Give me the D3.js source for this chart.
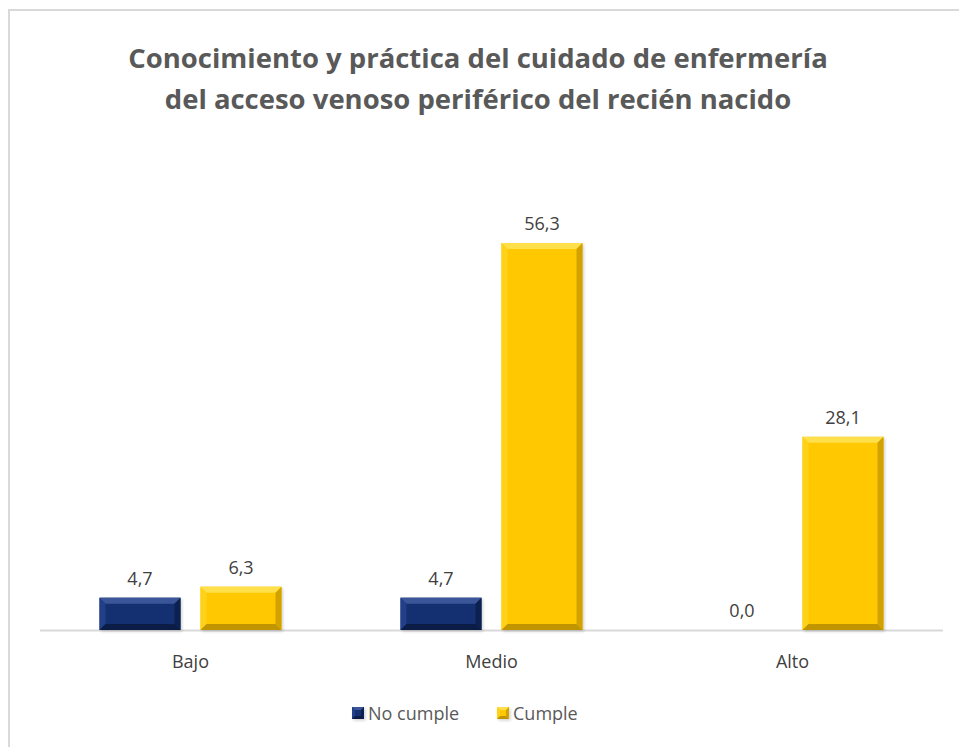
<!DOCTYPE html>
<html><head><meta charset="utf-8">
<script src="https://cdn.jsdelivr.net/npm/d3@7/dist/d3.min.js"></script>
<style>body{margin:0;background:#fff}svg{display:block}</style>
</head><body>
<svg id="c" width="959" height="747"></svg>
<script>
const categories = ["Bajo", "Medio", "Alto"];
const seriesNames = ["No cumple", "Cumple"];
const noCumple = [4.7, 4.7, 0.0];
const cumple = [6.3, 56.3, 28.1];
const titleLines = ["Conocimiento y práctica del cuidado de enfermería", "del acceso venoso periférico del recién nacido"];

(function(){
const svg = d3.select("#c");
const W = 959, H = 747;
const font = "'Open Sans', 'Noto Sans', sans-serif";

svg.append("rect").attr("x", 9).attr("y", 10).attr("width", W + 20).attr("height", H + 20)
  .attr("fill", "#fff").attr("stroke", "#d9d9d9").attr("stroke-width", 2);

const plotL = 40, plotR = 943, base = 630, yTop = 243;
const x0 = d3.scaleBand().domain(categories).range([plotL, plotR]);
const x1 = d3.scaleBand().domain(seriesNames).range([0, x0.bandwidth()]).paddingInner(0.198).paddingOuter(0.589);
const y = d3.scaleLinear().domain([0, 56.3]).range([base, yTop]);

const defs = svg.append("defs");
const f = defs.append("filter").attr("id", "sh").attr("x", "-20%").attr("y", "-20%").attr("width", "140%").attr("height", "140%");
f.append("feGaussianBlur").attr("stdDeviation", 1.5);

const colors = {
  "No cumple": {main: "#153070", topc: "#3a5698", left: "#22408a", right: "#0d2150", bot: "#0b1c46"},
  "Cumple": {main: "#ffc800", topc: "#ffe04a", left: "#ffd21a", right: "#d2a300", bot: "#c19500"}
};

const data = [];
categories.forEach((c, i) => {
  data.push({cat: c, s: "No cumple", v: noCumple[i]});
  data.push({cat: c, s: "Cumple", v: cumple[i]});
});

svg.append("line").attr("x1", plotL).attr("x2", plotR).attr("y1", base + 0.5).attr("y2", base + 0.5)
  .attr("stroke", "#d9d9d9").attr("stroke-width", 2);

const g = svg.append("g");
function bevelBar(sel, x, yT, w, h, col, bev) {
  if (h <= 0) return;
  const b = Math.min(bev, h / 2);
  sel.append("rect").attr("x", x + 1.5).attr("y", yT + 1.5).attr("width", w).attr("height", h)
    .attr("fill", "#000").attr("opacity", 0.18).attr("filter", "url(#sh)");
  sel.append("rect").attr("x", x).attr("y", yT).attr("width", w).attr("height", h).attr("fill", col.main);
  const x2 = x + w, y2 = yT + h;
  sel.append("polygon").attr("points", `${x},${yT} ${x2},${yT} ${x2 - b},${yT + b} ${x + b},${yT + b}`).attr("fill", col.topc);
  sel.append("polygon").attr("points", `${x},${yT} ${x + b},${yT + b} ${x + b},${y2 - b} ${x},${y2}`).attr("fill", col.left);
  sel.append("polygon").attr("points", `${x2},${yT} ${x2},${y2} ${x2 - b},${y2 - b} ${x2 - b},${yT + b}`).attr("fill", col.right);
  sel.append("polygon").attr("points", `${x},${y2} ${x + b},${y2 - b} ${x2 - b},${y2 - b} ${x2},${y2}`).attr("fill", col.bot);
}

data.forEach(d => {
  const x = x0(d.cat) + x1(d.s);
  const w = x1.bandwidth();
  const yT = y(d.v);
  bevelBar(g, x, yT, w, base - yT, colors[d.s], 6);
  g.append("text").attr("x", x + w / 2).attr("y", yT - 13)
    .attr("text-anchor", "middle").attr("font-family", font).attr("font-size", 18)
    .attr("fill", "#404040").text(d.v.toFixed(1).replace(".", ","));
});

categories.forEach(c => {
  svg.append("text").attr("x", x0(c) + x0.bandwidth() / 2).attr("y", 668)
    .attr("text-anchor", "middle").attr("font-family", font).attr("font-size", 18)
    .attr("fill", "#404040").text(c);
});

const tnodes = titleLines.map((t, i) => svg.append("text").attr("x", 478).attr("y", 68 + i * 41)
    .attr("text-anchor", "middle").attr("font-family", font).attr("font-weight", "bold")
    .attr("font-size", 27).attr("fill", "#595959").text(t));
const len = tnodes[0].node().getComputedTextLength();
const fs = 27 * 700 / len;
tnodes.forEach(t => t.attr("font-size", fs));

const legItems = [{s: "No cumple", x: 352}, {s: "Cumple", x: 497}];
legItems.forEach(it => {
  bevelBar(svg, it.x, 707, 12, 12, colors[it.s], 3);
  svg.append("text").attr("x", it.x + 16).attr("y", 720).attr("font-family", font).attr("font-size", 18)
    .attr("fill", "#595959").text(it.s);
});
})();
</script>
</body></html>
